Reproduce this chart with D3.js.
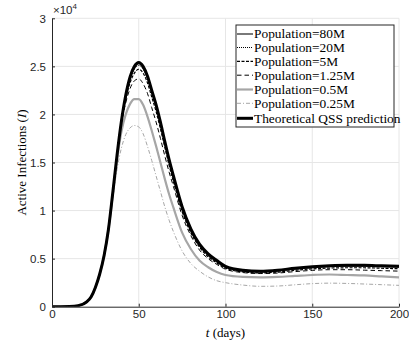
<!DOCTYPE html>
<html>
<head>
<meta charset="utf-8">
<script src="https://cdn.jsdelivr.net/npm/d3@7"></script>
<style>
html,body{margin:0;padding:0;background:#fff;}
svg{display:block;}
</style>
</head>
<body>
<svg id="chart" width="409" height="345"></svg>
<script>
// ---- data (values in units of 1e4) ----
const days = [0,5,10,15,20,22.5,25,27.5,30,32.5,35,37.5,40,42.5,45,47.5,50,52.5,55,57.5,60,62.5,65,67.5,70,75,80,85,90,95,100,110,120,130,140,150,160,170,180,190,200];

const qss   = [0,0.0003,0.002,0.01,0.05,0.1,0.2,0.34,0.53,0.8,1.18,1.58,1.93,2.2,2.39,2.5,2.54,2.5,2.4,2.25,2.1,1.92,1.72,1.53,1.36,1.04,0.81,0.65,0.55,0.48,0.42,0.38,0.37,0.38,0.4,0.415,0.425,0.43,0.43,0.425,0.42];
const pop80M = [0,0.0003,0.002,0.01,0.05,0.1,0.2,0.34,0.53,0.8,1.18,1.58,1.93,2.19,2.38,2.49,2.53,2.49,2.39,2.24,2.09,1.91,1.71,1.52,1.35,1.03,0.8,0.64,0.54,0.47,0.415,0.375,0.365,0.375,0.395,0.41,0.42,0.425,0.425,0.42,0.415];
const pop20M = [0,0.0003,0.002,0.01,0.05,0.1,0.2,0.34,0.53,0.8,1.18,1.58,1.93,2.18,2.36,2.47,2.51,2.47,2.37,2.22,2.07,1.89,1.69,1.5,1.33,1.01,0.78,0.63,0.53,0.465,0.41,0.37,0.36,0.37,0.39,0.405,0.415,0.418,0.418,0.413,0.408];
const pop5M  = [0,0.0003,0.002,0.01,0.05,0.1,0.2,0.34,0.53,0.8,1.18,1.58,1.92,2.16,2.33,2.43,2.47,2.43,2.33,2.18,2.03,1.85,1.66,1.47,1.3,0.99,0.77,0.62,0.52,0.455,0.4,0.362,0.352,0.36,0.378,0.393,0.402,0.405,0.405,0.4,0.395];
const pop125M= [0,0.0003,0.002,0.01,0.05,0.1,0.2,0.34,0.53,0.8,1.18,1.57,1.9,2.12,2.27,2.35,2.37,2.32,2.22,2.07,1.92,1.75,1.57,1.4,1.25,0.95,0.74,0.59,0.5,0.44,0.39,0.355,0.345,0.35,0.365,0.378,0.385,0.385,0.38,0.375,0.37];
const pop05M = [0,0.0003,0.002,0.01,0.05,0.1,0.2,0.34,0.53,0.8,1.16,1.53,1.82,2.0,2.11,2.16,2.16,2.1,1.98,1.83,1.67,1.5,1.33,1.17,1.03,0.77,0.6,0.48,0.41,0.36,0.33,0.31,0.305,0.31,0.32,0.33,0.335,0.33,0.325,0.315,0.305];
const pop025M= [0,0.0003,0.002,0.01,0.05,0.1,0.2,0.34,0.53,0.79,1.12,1.43,1.65,1.79,1.86,1.885,1.87,1.8,1.67,1.52,1.36,1.2,1.04,0.9,0.78,0.58,0.45,0.37,0.31,0.27,0.25,0.225,0.212,0.215,0.228,0.24,0.245,0.242,0.236,0.229,0.222];

const seriesNames = ["Population=80M","Population=20M","Population=5M","Population=1.25M","Population=0.5M","Population=0.25M","Theoretical QSS prediction"];
const seriesValues = [pop80M, pop20M, pop5M, pop125M, pop05M, pop025M, qss];

const xTicks = [0,50,100,150,200];
const yTicks = [0,0.5,1,1.5,2,2.5,3];
const yTickLabels = ["0","0.5","1","1.5","2","2.5","3"];

// ---- styles ----
const styles = [
  {color:"#4d4d4d", width:1.5, dash:null},
  {color:"#000000", width:1.0, dash:"1,1"},
  {color:"#000000", width:1.2, dash:"3,1.5"},
  {color:"#000000", width:1.0, dash:"4.5,3"},
  {color:"#a6a6a6", width:2.2, dash:null},
  {color:"#a6a6a6", width:1.0, dash:"4,2,1,2"},
  {color:"#000000", width:3.0, dash:null}
];

const svg = d3.select("#chart");
const x = d3.scaleLinear().domain([0,200]).range([52, 399]);
const y = d3.scaleLinear().domain([0,3]).range([306.7, 18.3]);

const axisColor = "#262626";
const sans = "Liberation Sans, Arial, Helvetica, sans-serif";
const serif = "Liberation Serif, Times New Roman, serif";

// grid
const g = svg.append("g");
g.selectAll(".gx").data(xTicks.slice(1)).enter().append("line")
  .attr("x1", d=>x(d)).attr("x2", d=>x(d)).attr("y1", y(0)).attr("y2", y(3))
  .attr("stroke","#e6e6e6").attr("stroke-width",1);
g.selectAll(".gy").data(yTicks.slice(1)).enter().append("line")
  .attr("x1", x(0)).attr("x2", x(200)).attr("y1", d=>y(d)).attr("y2", d=>y(d))
  .attr("stroke","#e6e6e6").attr("stroke-width",1);

// lines
svg.append("clipPath").attr("id","clip").append("rect")
  .attr("x", x(0)).attr("y", y(3)).attr("width", x(200)-x(0)).attr("height", y(0)-y(3));

const line = d3.line().x((d,i)=>x(days[i])).y(d=>y(d)).curve(d3.curveMonotoneX);
const lg = svg.append("g").attr("clip-path","url(#clip)");
seriesValues.forEach((vals,i)=>{
  const s = styles[i];
  lg.append("path").datum(vals).attr("d", line)
    .attr("fill","none").attr("stroke", s.color).attr("stroke-width", s.width)
    .attr("stroke-dasharray", s.dash).attr("stroke-linejoin","round");
});

// axes
const xAxis = d3.axisBottom(x).tickValues(xTicks).tickSizeInner(-3).tickSizeOuter(0).tickPadding(3);
const yAxis = d3.axisLeft(y).tickValues(yTicks).tickFormat((d,i)=>yTickLabels[i]).tickSizeInner(-3).tickSizeOuter(0).tickPadding(6);

const gx = svg.append("g").attr("transform", `translate(0,${y(0)})`).call(xAxis);
const gy = svg.append("g").attr("transform", `translate(${x(0)},0)`).call(yAxis);
[gx, gy].forEach(a=>{
  a.select(".domain").attr("stroke", axisColor).attr("stroke-width",1);
  a.selectAll(".tick line").attr("stroke", axisColor);
  a.selectAll(".tick text").attr("fill", axisColor).attr("font-family", sans).attr("font-size", 11.5);
});
gy.selectAll(".tick text").attr("dy","0.35em");

// exponent
const ex = svg.append("text").attr("x", 53).attr("y", 14).attr("fill", axisColor)
  .attr("font-family", sans).attr("font-size", 11.5);
ex.append("tspan").text("\u00d710");
ex.append("tspan").attr("dy", -5).attr("font-size", 8).text("4");

// axis labels
const xl = svg.append("text").attr("x", x(100)).attr("y", 337).attr("text-anchor","middle")
  .attr("font-family", serif).attr("font-size", 13).attr("fill","#000");
xl.append("tspan").attr("font-style","italic").text("t");
xl.append("tspan").text(" (days)");

const yl = svg.append("text").attr("transform", `translate(26,${y(1.5)}) rotate(-90)`)
  .attr("text-anchor","middle").attr("font-family", serif).attr("font-size", 13).attr("fill","#000");
yl.append("tspan").text("Active Infections (");
yl.append("tspan").attr("font-style","italic").text("I");
yl.append("tspan").text(")");

// legend
const lgX = 236, lgY = 25, lgW = 158, lgH = 102;
const leg = svg.append("g");
leg.append("rect").attr("x", lgX).attr("y", lgY).attr("width", lgW).attr("height", lgH)
  .attr("fill","#fff").attr("stroke", axisColor).attr("stroke-width", 1);
const rowY = [34, 47.5, 61.3, 75.2, 89.5, 103.3, 118.3];
seriesNames.forEach((name,i)=>{
  const s = styles[i];
  leg.append("line").attr("x1", 237).attr("x2", 253).attr("y1", rowY[i]).attr("y2", rowY[i])
    .attr("stroke", s.color).attr("stroke-width", s.width).attr("stroke-dasharray", s.dash);
  leg.append("text").attr("x", 254).attr("y", rowY[i]).attr("dy","0.33em")
    .attr("font-family", serif).attr("font-size", 13.4).attr("fill","#000").text(name);
});
</script>
</body>
</html>
